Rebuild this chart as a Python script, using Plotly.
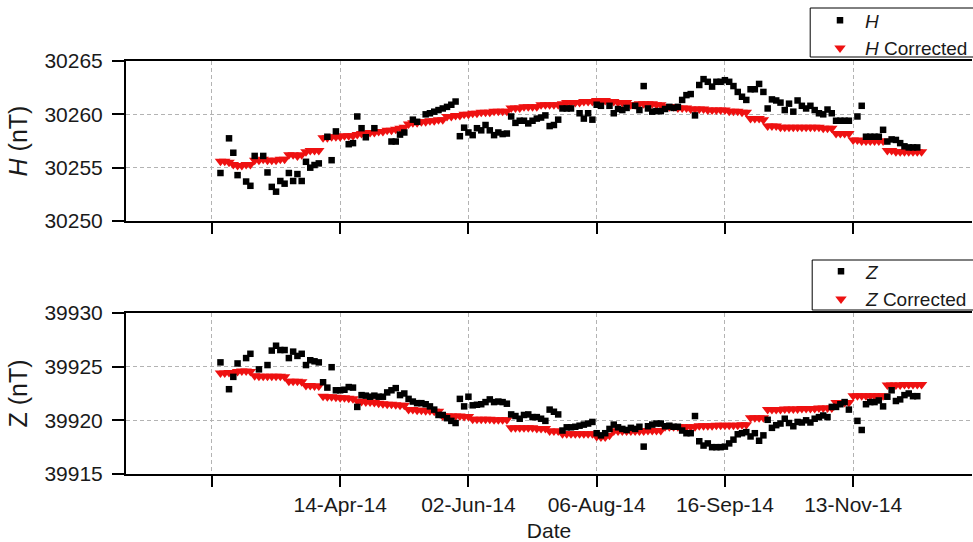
import plotly.graph_objects as go

# Day index of each sample (x axis is sample/day number, labelled with dates)
day = list(range(2, 167))

tick_pos = [0, 30, 60, 90, 120, 150]
tick_text = ["", "14-Apr-14", "02-Jun-14", "06-Aug-14", "16-Sep-14", "13-Nov-14"]

H = [
    30254.5, None, 30257.75, 30256.4, 30254.3, None, 30253.7, 30253.3, 30256.1, None,
    30256.1, 30254.55, 30253.2, 30252.75, 30253.75, 30253.5, 30254.5, 30253.75, 30254.4, 30253.75,
    30255.55, 30255.0, 30255.25, 30255.4, None, 30257.9, 30255.7, 30258.4, None, None,
    30257.2, 30257.3, 30259.8, 30258.7, 30257.85, None, 30258.7, None, None, None,
    30257.45, 30257.45, 30258.1, 30258.3, None, 30259.5, 30259.3, None, 30260.0, 30260.1,
    30260.25, 30260.4, 30260.55, 30260.7, 30260.9, 30261.2, 30257.95, 30258.75, 30258.3, 30258.05,
    30258.7, 30258.5, 30259.0, 30258.5, 30258.05, 30258.3, 30258.15, 30258.2, 30259.8, 30259.2,
    30259.4, 30259.4, 30259.15, 30259.4, 30259.6, 30259.7, 30259.9, 30258.9, 30259.0, 30259.5,
    30260.55, 30260.55, 30260.55, None, 30260.1, 30259.6, 30260.1, 30259.5, 30260.9, 30260.8,
    None, 30260.8, 30260.1, 30260.5, 30260.4, 30260.6, None, 30260.8, 30260.4, 30262.65,
    30260.55, 30260.25, 30260.3, 30260.3, 30260.5, 30260.7, 30260.6, 30260.7, 30261.35, 30261.8,
    30261.9, 30259.9, 30262.75, 30263.3, 30263.05, 30262.6, 30263.05, 30263.05, 30263.2, 30263.05,
    30262.65, 30262.1, 30261.65, 30261.35, 30262.35, 30262.35, 30262.85, 30262.1, 30260.55, 30261.4,
    30261.3, 30261.1, 30260.4, 30261.0, 30260.25, 30261.3, 30260.8, 30260.55, 30260.8, 30260.4,
    30260.1, 30260.0, 30260.45, 30260.1, 30259.4, 30259.4, 30259.4, 30259.4, None, 30259.8,
    30260.8, 30257.9, 30257.9, 30257.9, 30257.9, 30258.55, 30257.45, 30257.65, 30257.6, 30257.3,
    30257.0, 30256.9, 30256.9, 30256.9, None,
]

H_corrected = [
    30255.6, 30255.6, 30255.5,
    30255.3, 30255.2, 30255.2, 30255.3, 30255.3,
    30255.7, 30255.7, 30255.8, 30255.7, 30255.7, 30255.7, 30255.8, 30255.8,
    30256.2, 30256.2, 30256.1, 30256.2,
    30256.5, 30256.6, 30256.6, 30256.6,
    30257.8, 30257.8, 30257.9, 30257.9, 30257.9, 30258.0, 30258.0, 30258.0,
    30258.1, 30258.2, 30258.2, 30258.3, 30258.3, 30258.4, 30258.4, 30258.5, 30258.5, 30258.6, 30258.7, 30258.8,
    30259.1, 30259.2, 30259.2, 30259.3, 30259.3, 30259.4, 30259.4, 30259.5, 30259.5,
    30259.8, 30259.8, 30259.9, 30259.9, 30260.0, 30260.0,
    30260.1, 30260.1, 30260.2, 30260.2, 30260.2, 30260.3, 30260.3, 30260.3, 30260.3,
    30260.6, 30260.6, 30260.6, 30260.7, 30260.7, 30260.7, 30260.7,
    30260.9, 30260.9, 30260.9, 30260.9, 30260.9,
    30261.0, 30261.1, 30261.1, 30261.1, 30261.1, 30261.2, 30261.2, 30261.2,
    30261.3, 30261.3, 30261.3, 30261.2, 30261.2, 30261.1, 30261.1, 30261.1,
    30260.9, 30260.9, 30261.0, 30261.0, 30261.0, 30261.0, 30260.9, 30260.9,
    30260.7, 30260.7, 30260.7, 30260.6, 30260.6, 30260.6,
    30260.5, 30260.5, 30260.5, 30260.5, 30260.4, 30260.4, 30260.4, 30260.4, 30260.4, 30260.3,
    30260.3, 30260.3, 30260.2, 30260.2,
    30259.6, 30259.6, 30259.6, 30259.5,
    30258.9, 30258.9, 30258.9, 30258.8, 30258.8, 30258.8, 30258.8, 30258.8,
    30258.8, 30258.8, 30258.8, 30258.8, 30258.8, 30258.7, 30258.7, 30258.7,
    30258.2, 30258.2, 30258.2, 30258.2,
    30257.6, 30257.6, 30257.5, 30257.5, 30257.5, 30257.5, 30257.5, 30257.5,
    30256.6, 30256.6, 30256.5, 30256.5, 30256.5, 30256.5, 30256.5, 30256.5, 30256.5,
]

Z = [
    39925.4, None, 39922.9, 39924.05, 39925.3, None, 39925.8, 39926.2, None, 39924.75,
    None, 39925.15, 39926.5, 39926.95, 39926.55, 39926.55, 39925.8, 39926.4, 39926.0, 39926.2,
    39925.15, 39925.6, 39925.5, 39925.4, 39923.55, 39923.05, 39924.95, 39922.8, 39922.8, 39922.85,
    39923.1, 39923.05, 39921.25, 39922.35, 39922.3, 39922.2, 39922.3, 39922.2, 39922.2, 39922.6,
    39922.8, 39923.0, 39922.35, 39922.5, 39922.0, 39921.75, 39921.6, 39921.6, 39921.5, 39921.3,
    39921.0, 39920.5, 39920.5, 39920.2, 39919.95, 39919.75, 39922.0, 39921.3, 39922.2, 39921.4,
    39921.45, 39921.5, 39921.7, 39921.95, 39921.7, 39921.75, 39921.7, 39921.55, 39920.55, 39920.4,
    39920.15, 39920.5, 39920.55, 39920.3, 39920.3, 39920.15, 39919.95, 39921.0, 39920.8, 39920.55,
    39919.05, 39919.35, 39919.35, 39919.4, 39919.5, 39919.6, 39919.7, 39919.85, 39918.8, 39918.6,
    39918.8, 39919.2, 39919.6, 39919.35, 39919.2, 39919.1, 39919.3, 39919.2, 39919.4, 39917.55,
    39919.45, 39919.6, 39919.7, 39919.7, 39919.45, 39919.5, 39919.4, 39919.4, 39919.05, 39918.8,
    39918.8, 39920.4, 39918.05, 39917.65, 39917.85, 39917.5, 39917.5, 39917.5, 39917.55, 39917.85,
    39918.2, 39918.7, 39918.8, 39918.9, 39918.5, 39918.8, 39918.1, 39918.6, 39920.05, 39919.3,
    39919.55, 39919.7, 39920.15, 39919.75, 39919.45, 39919.85, 39919.8, 39920.0, 39919.8, 39920.15,
    39920.3, 39920.45, 39920.3, 39921.25, 39921.25, 39921.5, 39921.7, 39921.0, None, 39919.95,
    39919.1, 39921.5, 39921.7, 39921.7, 39921.85, 39921.3, 39922.2, 39922.8, 39921.8, 39921.95,
    39922.35, 39922.5, 39922.25, 39922.25, None,
]

Z_corrected = [
    39924.4, 39924.4, 39924.45, 39924.4,
    39924.55, 39924.6, 39924.6, 39924.55,
    39924.15, 39924.1, 39924.1, 39924.1, 39924.1, 39924.1, 39924.1, 39924.05,
    39923.65, 39923.65, 39923.65, 39923.6,
    39923.25, 39923.25, 39923.2, 39923.2,
    39922.25, 39922.2, 39922.2, 39922.15, 39922.1, 39922.1, 39922.05, 39922.0,
    39921.8, 39921.75, 39921.7, 39921.7, 39921.65, 39921.6, 39921.55, 39921.5, 39921.5, 39921.45, 39921.4, 39921.4,
    39921.0, 39921.0, 39920.95, 39920.95, 39920.9, 39920.9, 39920.85, 39920.85,
    39920.4, 39920.4, 39920.4, 39920.4, 39920.4, 39920.35, 39920.35,
    39920.1, 39920.1, 39920.1, 39920.1, 39920.1, 39920.05, 39920.05, 39920.05, 39920.05,
    39919.3, 39919.3, 39919.3, 39919.3, 39919.3, 39919.3, 39919.25, 39919.25, 39919.25,
    39919.0, 39919.0, 39919.0,
    39918.75, 39918.75, 39918.75, 39918.75, 39918.75, 39918.75, 39918.75, 39918.75,
    39918.5, 39918.45, 39918.45, 39918.6,
    39919.0, 39919.0, 39919.0, 39919.0, 39919.0, 39919.0, 39919.0, 39919.0, 39919.05, 39919.05, 39919.05, 39919.05,
    39919.4, 39919.4, 39919.4, 39919.4, 39919.4, 39919.4, 39919.4, 39919.4,
    39919.5, 39919.5, 39919.5, 39919.5, 39919.55, 39919.55, 39919.55, 39919.55, 39919.55, 39919.55, 39919.6, 39919.6,
    39920.25, 39920.25, 39920.25, 39920.25,
    39921.0, 39921.0, 39921.0, 39921.0, 39921.05, 39921.05, 39921.05, 39921.05,
    39921.1, 39921.1, 39921.1, 39921.1, 39921.15, 39921.15, 39921.15, 39921.15,
    39921.65, 39921.65, 39921.65, 39921.65,
    39922.3, 39922.3, 39922.3, 39922.3, 39922.3, 39922.3, 39922.3, 39922.3,
    39923.3, 39923.3, 39923.3, 39923.3, 39923.35, 39923.35, 39923.35, 39923.35, 39923.35,
]

RED = "#ee1111"
FONT = "Liberation Sans, Arial, sans-serif"
TXT = "#1a1a1a"

# Plot area in pixels: left 126, right 973, top 61, bottom 474
W, H_PX = 973, 542
M_L, M_R, M_T, M_B = 126, 0, 61, 68
PW, PH = W - M_L - M_R, H_PX - M_T - M_B


def px_x(p):
    return (p - M_L) / PW


def px_y(p):
    return (H_PX - M_B - p) / PH


fig = go.Figure()

# Top panel: horizontal component
fig.add_trace(go.Scatter(
    x=day, y=H_corrected, mode="markers", name="<i>H</i> Corrected",
    marker=dict(symbol="triangle-down", size=10, color=RED, line=dict(width=0)),
    xaxis="x", yaxis="y", legend="legend", legendrank=2,
))
fig.add_trace(go.Scatter(
    x=day, y=H, mode="markers", name="<i>H</i>",
    marker=dict(symbol="square", size=6.5, color="black", line=dict(width=0)),
    xaxis="x", yaxis="y", legend="legend", legendrank=1,
))

# Bottom panel: vertical component
fig.add_trace(go.Scatter(
    x=day, y=Z_corrected, mode="markers", name="<i>Z</i> Corrected",
    marker=dict(symbol="triangle-down", size=10, color=RED, line=dict(width=0)),
    xaxis="x2", yaxis="y2", legend="legend2", legendrank=2,
))
fig.add_trace(go.Scatter(
    x=day, y=Z, mode="markers", name="<i>Z</i>",
    marker=dict(symbol="square", size=6.5, color="black", line=dict(width=0)),
    xaxis="x2", yaxis="y2", legend="legend2", legendrank=1,
))

x_range = [-20.1, 177.8]
grid = dict(showgrid=True, gridcolor="#b3b3b3", gridwidth=1, griddash="4px,3px")
axis_line = dict(showline=True, linecolor="black", linewidth=2, zeroline=False,
                 ticks="outside", tickcolor="black", tickwidth=2)

xcommon = dict(range=x_range, tickmode="array", tickvals=tick_pos, ticktext=tick_text,
               ticklen=11, mirror=True, tickfont=dict(size=21), **grid, **axis_line)
ycommon = dict(ticklen=12, ticklabelstandoff=5, tickformat="d", tickfont=dict(size=21),
               **grid, **axis_line)

legend_style = dict(
    xanchor="left", yanchor="top", bgcolor="rgba(0,0,0,0)", borderwidth=0,
    font=dict(family=FONT, size=19, color=TXT), tracegroupgap=0, itemwidth=40,
)

# Framed legend boxes
boxes = [(811, 8, 57), (813, 260, 310)]
shapes = [
    dict(type="rect", xref="paper", yref="paper",
         x0=px_x(x0), x1=px_x(980), y0=px_y(y1), y1=px_y(y0),
         line=dict(color="black", width=1), fillcolor="white", layer="below")
    for x0, y0, y1 in boxes
]

fig.update_layout(
    width=W, height=H_PX,
    margin=dict(l=M_L, r=M_R, t=M_T, b=M_B),
    plot_bgcolor="white", paper_bgcolor="white",
    font=dict(family=FONT, size=21, color=TXT),
    xaxis=dict(domain=[0, 1], anchor="y", showticklabels=False, **xcommon),
    xaxis2=dict(domain=[0, 1], anchor="y2", showticklabels=True,
                title=dict(text="Date", standoff=8, font=dict(size=21)), **xcommon),
    yaxis=dict(domain=[px_y(221), 1], anchor="x", range=[30250, 30265],
               tickvals=[30250, 30255, 30260, 30265],
               title=dict(text="<i>H</i> (nT)", standoff=10), **ycommon),
    yaxis2=dict(domain=[0, px_y(313)], anchor="x2", range=[39915, 39930],
                tickvals=[39915, 39920, 39925, 39930],
                title=dict(text="Z (nT)", standoff=10), **ycommon),
    legend=dict(x=px_x(815), y=px_y(1.5), **legend_style),
    legend2=dict(x=px_x(817), y=px_y(252.5), **legend_style),
    shapes=shapes,
)

fig.write_html("out.html")
